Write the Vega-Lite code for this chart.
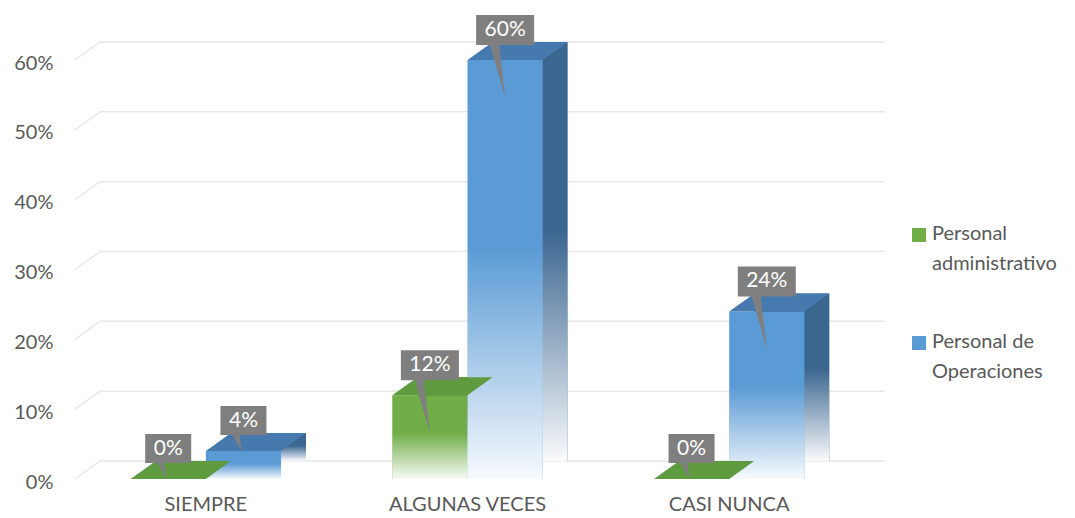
{
  "$schema": "https://vega.github.io/schema/vega-lite/v6.json",
  "width": 785,
  "height": 419,
  "autosize": {"type": "none"},
  "padding": {"left": 75, "top": 60, "right": 215, "bottom": 39},
  "background": "#ffffff",
  "config": {"view": {"stroke": null}, "font": "Lato"},
  "datasets": {
    "d": [
      {"cat": "SIEMPRE", "serie": "Personal administrativo", "v": 0},
      {"cat": "SIEMPRE", "serie": "Personal de Operaciones", "v": 0.04},
      {"cat": "ALGUNAS VECES", "serie": "Personal administrativo", "v": 0.12},
      {"cat": "ALGUNAS VECES", "serie": "Personal de Operaciones", "v": 0.6},
      {"cat": "CASI NUNCA", "serie": "Personal administrativo", "v": 0},
      {"cat": "CASI NUNCA", "serie": "Personal de Operaciones", "v": 0.24}
    ],
    "grid": [{"t": 0}, {"t": 0.1}, {"t": 0.2}, {"t": 0.3}, {"t": 0.4}, {"t": 0.5}, {"t": 0.6}]
  },
  "layer": [
    {
      "data": {"name": "grid"},
      "mark": {"type": "point", "filled": false, "opacity": 1, "size": 4, "stroke": "#E8E8E8", "strokeWidth": 1.5,
               "shape": "M-392.5,0L-367.5,-18H417.5"},
      "encoding": {
        "y": {"field": "t", "type": "quantitative", "scale": {"domain": [0, 0.6], "nice": false},
              "axis": {"title": null, "values": [0, 0.1, 0.2, 0.3, 0.4, 0.5, 0.6], "format": ".0%", "labelFontSize": 20, "labelColor": "#595959", "labelPadding": 22, "labelOffset": 3, "ticks": false, "domain": false, "grid": false}}
      }
    },
    {
      "data": {"name": "d"},
      "encoding": {
        "x": {"field": "cat", "type": "nominal", "sort": ["SIEMPRE", "ALGUNAS VECES", "CASI NUNCA"],
              "scale": {"paddingInner": 0.425, "paddingOuter": 0.2125},
              "axis": {"title": null, "labelAngle": 0, "labelFontSize": 20, "labelColor": "#595959", "labelPadding": 15, "ticks": false, "domain": false, "grid": false}},
        "xOffset": {"field": "serie", "type": "nominal", "sort": ["Personal administrativo", "Personal de Operaciones"]},
        "y": {"field": "v", "type": "quantitative", "scale": {"domain": [0, 0.6], "nice": false},
              "axis": {"title": null, "values": [0, 0.1, 0.2, 0.3, 0.4, 0.5, 0.6], "format": ".0%", "labelFontSize": 20, "labelColor": "#595959", "labelPadding": 22, "labelOffset": 3, "ticks": false, "domain": false, "grid": false}}
      },
      "layer": [
        {
          "mark": {"type": "bar", "yOffset": -18, "y2Offset": 0},
          "encoding": {
            "xOffset": {"field": "serie", "type": "nominal", "sort": ["Personal administrativo", "Personal de Operaciones"], "scale": {"range": [25, 175.4]}},
            "color": {"field": "serie", "type": "nominal", "scale": {"range": ["#4B7B37", "#3B6690"]}, "legend": null}
          }
        },
        {
          "mark": {"type": "bar", "yOffset": -18, "y2Offset": 0,
                   "fill": {"gradient": "linear", "x1": 0, "y1": 0, "x2": 0, "y2": 1,
                            "stops": [{"offset": 0, "color": "rgba(255,255,255,0)"}, {"offset": 0.45, "color": "rgba(255,255,255,0)"}, {"offset": 1, "color": "rgba(255,255,255,0.97)"}]}},
          "encoding": {
            "xOffset": {"field": "serie", "type": "nominal", "sort": ["Personal administrativo", "Personal de Operaciones"], "scale": {"range": [25, 175.4]}}
          }
        },
        {
          "mark": {"type": "bar"},
          "encoding": {
            "color": {"field": "serie", "type": "nominal", "scale": {"range": ["#70AD47", "#5B9BD5"]},
                      "legend": {"title": null, "orient": "none", "legendX": 834, "legendY": 165,
                                 "symbolType": "square", "symbolSize": 196, "symbolStrokeWidth": 0,
                                 "labelFontSize": 20, "labelColor": "#595959", "labelLimit": 300, "labelOffset": 3,
                                 "labelBaseline": "top", "rowPadding": 58,
                                 "labelExpr": "datum.label == 'Personal administrativo' ? ['Personal', 'administrativo'] : ['Personal de', 'Operaciones']",
                                 "encode": {"labels": {"update": {"lineHeight": {"value": 30}, "dy": {"value": -11}}}}}}
          }
        },
        {
          "mark": {"type": "bar",
                   "fill": {"gradient": "linear", "x1": 0, "y1": 0, "x2": 0, "y2": 1,
                            "stops": [{"offset": 0, "color": "rgba(255,255,255,0)"}, {"offset": 0.45, "color": "rgba(255,255,255,0)"}, {"offset": 1, "color": "rgba(255,255,255,0.95)"}]}}
        },
        {
          "mark": {"type": "point", "filled": true, "opacity": 1, "size": 4, "strokeWidth": 0,
                   "shape": "M-37.6,0L37.6,0L62.6,-18L-12.4,-18Z"},
          "encoding": {
            "color": {"field": "serie", "type": "nominal", "scale": {"range": ["#5E9A3E", "#4679AE"]}, "legend": null}
          }
        },
        {
          "mark": {"type": "point", "filled": true, "opacity": 1, "size": 4, "strokeWidth": 0, "fill": "#7F7F7F"},
          "encoding": {
            "shape": {"condition": {"test": "datum.v < 0.1", "value": "M-23,-45H23V-16H-4L-2,0L-11,-16H-23Z"},
                      "value": "M-29,-45H29V-15H-6L0,38L-15,-15H-29Z"}
          }
        },
        {
          "mark": {"type": "text", "color": "#FFFFFF", "fontSize": 21, "dy": -30, "dx": 0, "baseline": "middle"},
          "encoding": {
            "text": {"field": "v", "type": "quantitative", "format": ".0%"}
          }
        }
      ],
      "resolve": {"scale": {"color": "independent", "xOffset": "independent"}}
    }
  ]
}
